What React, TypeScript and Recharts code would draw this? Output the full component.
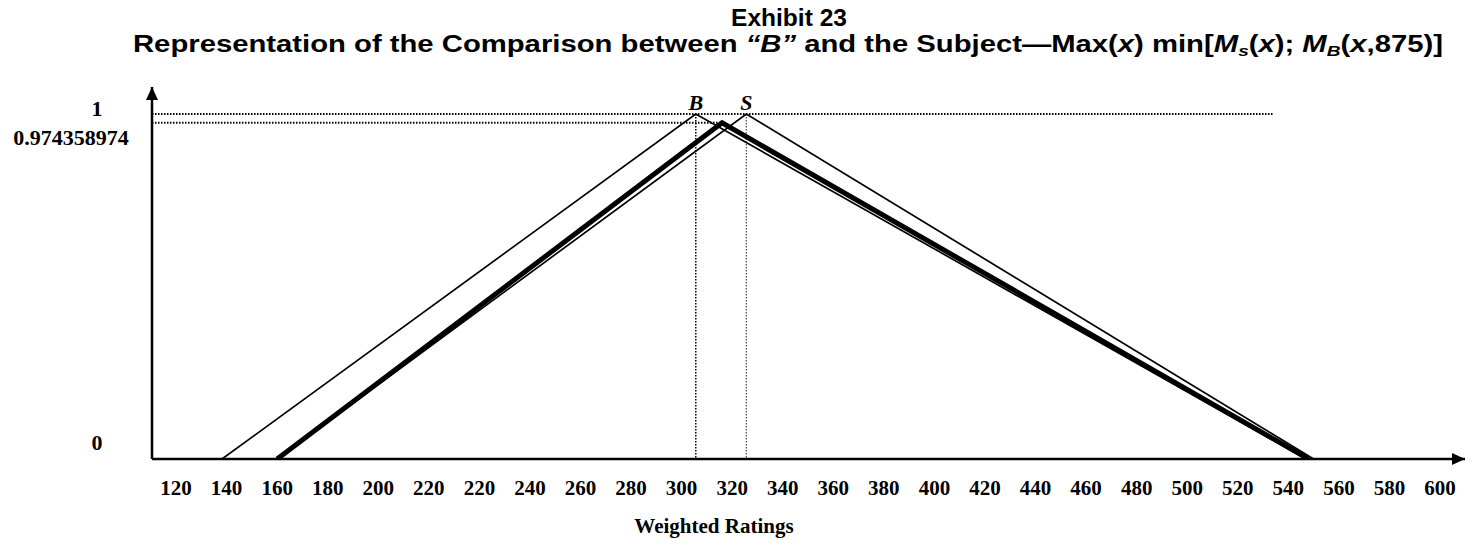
import React from 'react';
import {
  LineChart,
  Line,
  XAxis,
  YAxis,
  ReferenceLine,
  ReferenceDot,
} from 'recharts';

// x values are positions on the printed axis: slot i carries label xLabels[i]
const xLabels = [
  '120', '140', '160', '180', '200', '220', '220', '240', '260', '280', '300', '320', '340',
  '360', '380', '400', '420', '440', '460', '480', '500', '520', '540', '560', '580', '600',
];
const yTicks = [0, 0.974358974, 1];

const bX = [0.91, 10.28, 22.35];
const bY = [0, 1, 0];
const sX = [2.0, 11.28, 22.5];
const sY = [0, 1, 0];
const minX = [2.0, 10.8, 22.4];
const minY = [0, 0.974358974, 0];

const toPoints = (xs: number[], ys: number[]) => xs.map((x, i) => ({ x, y: ys[i] }));
const bData = toPoints(bX, bY);
const sData = toPoints(sX, sY);
const minData = toPoints(minX, minY);

const X_MIN = -0.475;
const X_MAX = 25.494;
const Y_MAX = 1.0783;
const oneLineEnd = 21.7;

const serif = '"Liberation Serif", "Times New Roman", serif';
const sans = '"Liberation Sans", Arial, Helvetica, sans-serif';

const YTick = (props: any) => {
  const { x, y, payload } = props;
  const v = payload.value;
  let cx = x - 55;
  let dy = -17;
  if (v === 1) dy = -6;
  if (v !== 0 && v !== 1) {
    cx = x - 81;
    dy = 15;
  }
  return (
    <text
      x={cx}
      y={y + dy}
      textAnchor="middle"
      dominantBaseline="central"
      fontFamily={serif}
      fontWeight="bold"
      fontSize={22}
      fill="#000"
    >
      {String(v)}
    </text>
  );
};

const it = { fontStyle: 'italic' as const };

const App = () => {
  return (
    <div style={{ position: 'absolute', left: 0, top: 0, width: 1479, height: 558, background: '#fff' }}>
      <svg width={1479} height={558} style={{ position: 'absolute', left: 0, top: 0 }}>
        <defs>
          <marker
            id="axisArrow"
            viewBox="0 0 13 12"
            refX={13}
            refY={6}
            markerWidth={13}
            markerHeight={12}
            markerUnits="userSpaceOnUse"
            orient="auto-start-reverse"
          >
            <path d="M0,0 L13,6 L0,12 Z" fill="#000" />
          </marker>
        </defs>
        <text
          x={789}
          y={26}
          textAnchor="middle"
          fontFamily={sans}
          fontWeight="bold"
          fontSize={23}
          fill="#000"
          textLength={116}
          lengthAdjust="spacingAndGlyphs"
        >
          Exhibit 23
        </text>
        <text
          x={788}
          y={52}
          textAnchor="middle"
          fontFamily={sans}
          fontWeight="bold"
          fontSize={23}
          fill="#000"
          textLength={1310}
          lengthAdjust="spacingAndGlyphs"
        >
          Representation of the Comparison between <tspan {...it}>“B”</tspan> and the Subject—Max(
          <tspan {...it}>x</tspan>) min[<tspan {...it}>M</tspan>
          <tspan {...it} fontSize={15} dy={4}>s</tspan>
          <tspan dy={-4}>(</tspan>
          <tspan {...it}>x</tspan>); <tspan {...it}>M</tspan>
          <tspan {...it} fontSize={15} dy={4}>B</tspan>
          <tspan dy={-4}>(</tspan>
          <tspan {...it}>x</tspan>,875)]
        </text>
        <text x={714} y={533} textAnchor="middle" fontFamily={serif} fontWeight="bold" fontSize={21} fill="#000">
          Weighted Ratings
        </text>
      </svg>
      <div style={{ position: 'absolute', left: 0, top: 0 }}>
        <LineChart width={1479} height={558} margin={{ top: 87, right: 14, bottom: 0, left: 0 }}>
          <XAxis
            type="number"
            dataKey="x"
            domain={[X_MIN, X_MAX]}
            ticks={xLabels.map((_, i) => i)}
            tickFormatter={(v: number) => xLabels[v] ?? ''}
            interval={0}
            allowDataOverflow
            height={99}
            tickLine={false}
            tickSize={0}
            tickMargin={21}
            axisLine={{ stroke: '#000', strokeWidth: 2.5, markerEnd: 'url(#axisArrow)' }}
            tick={{ fill: '#000', fontFamily: serif, fontWeight: 'bold', fontSize: 21 }}
          />
          <YAxis
            type="number"
            dataKey="y"
            domain={[0, Y_MAX]}
            ticks={yTicks}
            interval={0}
            allowDataOverflow
            width={152}
            tickLine={false}
            tickSize={0}
            tickMargin={0}
            axisLine={{ stroke: '#000', strokeWidth: 2.5, markerStart: 'url(#axisArrow)' }}
            tick={<YTick />}
          />
          <ReferenceLine
            segment={[{ x: X_MIN, y: 1 }, { x: oneLineEnd, y: 1 }]}
            stroke="#000"
            strokeWidth={2}
            strokeDasharray="1.5 1.5"
            ifOverflow="visible"
          />
          <ReferenceLine
            segment={[{ x: X_MIN, y: minY[1] }, { x: minX[1], y: minY[1] }]}
            stroke="#000"
            strokeWidth={2}
            strokeDasharray="1.5 1.5"
            ifOverflow="visible"
          />
          <ReferenceLine
            segment={[{ x: bX[1], y: 1 }, { x: bX[1], y: 0 }]}
            stroke="#000"
            strokeWidth={1.5}
            strokeDasharray="1.5 1.5"
            ifOverflow="visible"
          />
          <ReferenceLine
            segment={[{ x: sX[1], y: 1 }, { x: sX[1], y: 0 }]}
            stroke="#444"
            strokeWidth={1.2}
            strokeDasharray="1.5 1.5"
            ifOverflow="visible"
          />
          <Line
            data={bData}
            dataKey="y"
            type="linear"
            stroke="#000"
            strokeWidth={1.7}
            dot={false}
            activeDot={false}
            isAnimationActive={false}
          />
          <Line
            data={sData}
            dataKey="y"
            type="linear"
            stroke="#000"
            strokeWidth={1.7}
            dot={false}
            activeDot={false}
            isAnimationActive={false}
          />
          <Line
            data={minData}
            dataKey="y"
            type="linear"
            stroke="#000"
            strokeWidth={5}
            dot={false}
            activeDot={false}
            isAnimationActive={false}
          />
          <ReferenceDot
            x={bX[1]}
            y={1}
            r={0}
            ifOverflow="visible"
            label={{ value: 'B', position: 'top', offset: 4, fill: '#000', fontFamily: serif, fontWeight: 'bold', fontStyle: 'italic', fontSize: 22 }}
          />
          <ReferenceDot
            x={sX[1]}
            y={1}
            r={0}
            ifOverflow="visible"
            label={{ value: 'S', position: 'top', offset: 4, fill: '#000', fontFamily: serif, fontWeight: 'bold', fontStyle: 'italic', fontSize: 22 }}
          />
        </LineChart>
      </div>
    </div>
  );
};

export default App;
